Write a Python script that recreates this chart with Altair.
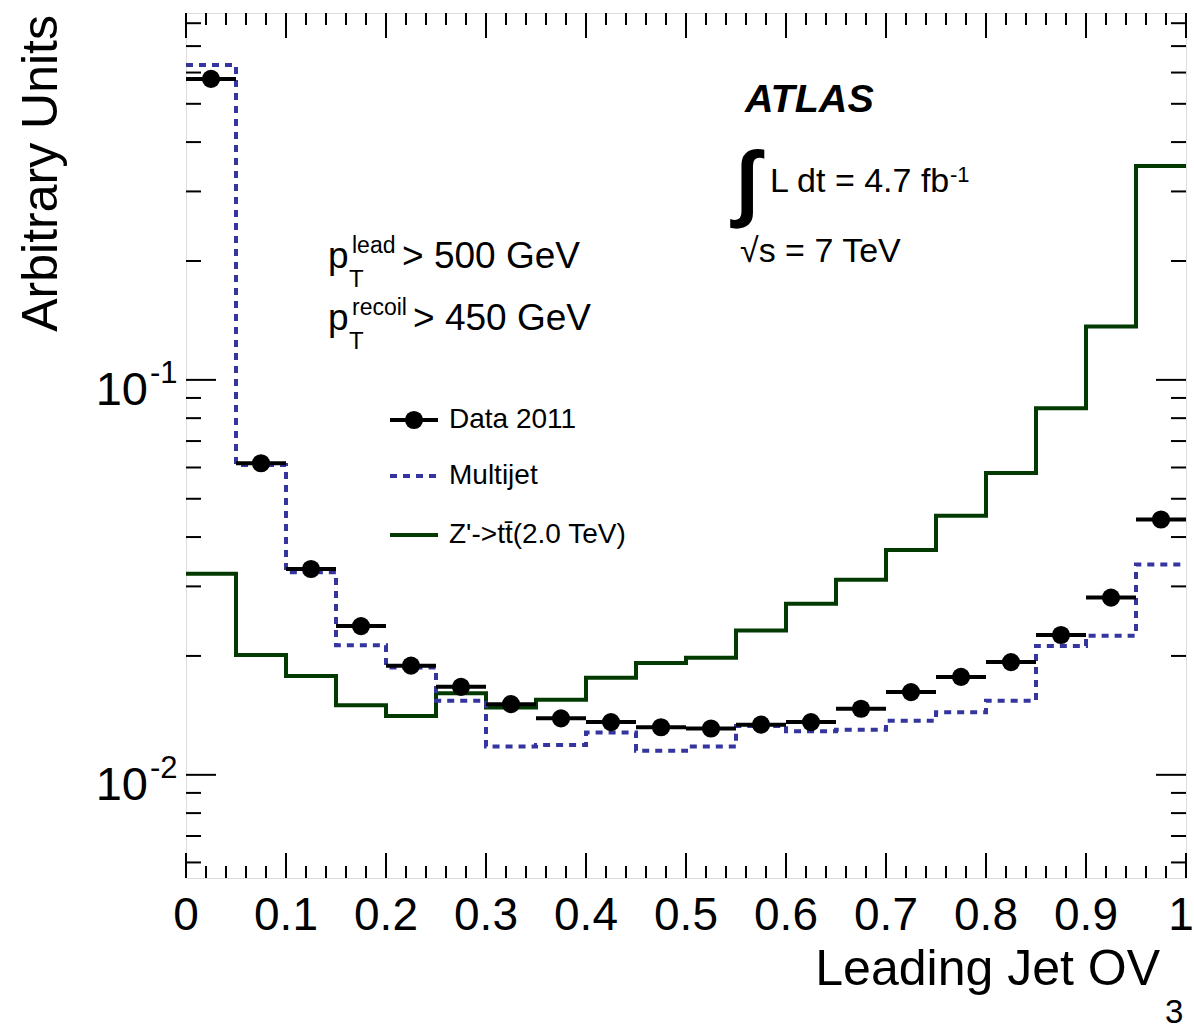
import altair as alt
import pandas as pd

# ---------------- data ----------------
bin_lo = [0.00, 0.05, 0.10, 0.15, 0.20, 0.25, 0.30, 0.35, 0.40, 0.45,
          0.50, 0.55, 0.60, 0.65, 0.70, 0.75, 0.80, 0.85, 0.90, 0.95]
bin_hi = [0.05, 0.10, 0.15, 0.20, 0.25, 0.30, 0.35, 0.40, 0.45, 0.50,
          0.55, 0.60, 0.65, 0.70, 0.75, 0.80, 0.85, 0.90, 0.95, 1.00]
bin_center = [0.025, 0.075, 0.125, 0.175, 0.225, 0.275, 0.325, 0.375, 0.425, 0.475,
              0.525, 0.575, 0.625, 0.675, 0.725, 0.775, 0.825, 0.875, 0.925, 0.975]

data_2011 = [0.578, 0.0615, 0.0332, 0.0238, 0.0189, 0.0167, 0.0151, 0.0139, 0.0136, 0.0132,
             0.0131, 0.0134, 0.0136, 0.0147, 0.0162, 0.0177, 0.0193, 0.0226, 0.0281, 0.0443]
multijet = [0.627, 0.0609, 0.0326, 0.0213, 0.0187, 0.0154, 0.0118, 0.0119, 0.0128, 0.0115,
            0.0118, 0.0133, 0.0129, 0.0130, 0.0137, 0.0144, 0.0154, 0.0212, 0.0225, 0.0341]
zprime = [0.0323, 0.0201, 0.0178, 0.0150, 0.0141, 0.0161, 0.0148, 0.0155, 0.0176, 0.0192,
          0.0198, 0.0232, 0.0271, 0.0312, 0.0371, 0.0453, 0.0581, 0.0848, 0.1365, 0.348]

x_label_values = [0, 0.1, 0.2, 0.3, 0.4, 0.5, 0.6, 0.7, 0.8, 0.9, 1]
x_label_text = ["0", "0.1", "0.2", "0.3", "0.4", "0.5", "0.6", "0.7", "0.8", "0.9", "1"]
x_minor_ticks = [0.02, 0.04, 0.06, 0.08, 0.12, 0.14, 0.16, 0.18, 0.22, 0.24, 0.26, 0.28,
                 0.32, 0.34, 0.36, 0.38, 0.42, 0.44, 0.46, 0.48, 0.52, 0.54, 0.56, 0.58,
                 0.62, 0.64, 0.66, 0.68, 0.72, 0.74, 0.76, 0.78, 0.82, 0.84, 0.86, 0.88,
                 0.92, 0.94, 0.96, 0.98]
y_major_ticks = [0.01, 0.1]
y_major_exp = ["-2", "-1"]
y_minor_ticks = [0.006, 0.007, 0.008, 0.009, 0.02, 0.03, 0.04, 0.05, 0.06, 0.07, 0.08, 0.09,
                 0.2, 0.3, 0.4, 0.5, 0.6, 0.7, 0.8]

legend_labels = ["Data 2011", "Multijet", "Z'->tt\u0304(2.0 TeV)"]

# ---------------- styles ----------------
W, H = 1000, 865
FONT = "Liberation Sans"
BLUE = "#3535a0"
GREEN = "#023a02"
MARKER = 330

xs = alt.Scale(domain=[0, 1], nice=False, zero=False)
ys = alt.Scale(type="log", domain=[0.00548, 0.849], nice=False)

bins = pd.DataFrame({"lo": bin_lo, "hi": bin_hi, "c": bin_center,
                     "data": data_2011, "mj": multijet, "zp": zprime})

step = pd.DataFrame({"x": bin_lo + [1.0],
                     "mj": multijet + [multijet[-1]],
                     "zp": zprime + [zprime[-1]]})

# histogram step lines
zp_line = alt.Chart(step).mark_line(interpolate="step-after", color=GREEN, strokeWidth=4).encode(
    x=alt.X("x:Q", scale=xs, axis=None),
    y=alt.Y("zp:Q", scale=ys, axis=None),
)
mj_line = alt.Chart(step).mark_line(interpolate="step-after", color=BLUE, strokeWidth=4,
                                    strokeDash=[7, 6]).encode(
    x=alt.X("x:Q", scale=xs, axis=None),
    y=alt.Y("mj:Q", scale=ys, axis=None),
)

# data points with horizontal bars
data_bars = alt.Chart(bins).mark_rule(color="black", strokeWidth=4).encode(
    x=alt.X("lo:Q", scale=xs, axis=None), x2="hi:Q",
    y=alt.Y("data:Q", scale=ys, axis=None),
)
data_pts = alt.Chart(bins).mark_circle(color="black", opacity=1, size=MARKER).encode(
    x=alt.X("c:Q", scale=xs, axis=None),
    y=alt.Y("data:Q", scale=ys, axis=None),
)

# ---------------- inward ticks on all four sides ----------------
def xticks(vals, length):
    df = pd.DataFrame({"v": vals})
    bot = alt.Chart(df).mark_rule(color="black", strokeWidth=2).encode(
        x=alt.X("v:Q", scale=xs, axis=None), y=alt.value(H), y2=alt.value(H - length))
    top = alt.Chart(df).mark_rule(color="black", strokeWidth=2).encode(
        x=alt.X("v:Q", scale=xs, axis=None), y=alt.value(0), y2=alt.value(length))
    return [bot, top]


def yticks(vals, length):
    df = pd.DataFrame({"v": vals})
    left = alt.Chart(df).mark_rule(color="black", strokeWidth=2).encode(
        y=alt.Y("v:Q", scale=ys, axis=None), x=alt.value(0), x2=alt.value(length))
    right = alt.Chart(df).mark_rule(color="black", strokeWidth=2).encode(
        y=alt.Y("v:Q", scale=ys, axis=None), x=alt.value(W), x2=alt.value(W - length))
    return [left, right]


tick_layers = (xticks(x_label_values, 25) + xticks(x_minor_ticks, 12)
               + yticks(y_major_ticks, 30) + yticks(y_minor_ticks, 15))

# x tick labels (last one nudged so it stays inside the canvas)
xlab_df = pd.DataFrame({"v": x_label_values, "t": x_label_text})
xlab = alt.Chart(xlab_df[:-1]).mark_text(align="center", baseline="alphabetic", font=FONT,
                                         fontSize=46, color="black").encode(
    x=alt.X("v:Q", scale=xs, axis=None), y=alt.value(H + 52), text="t:N")
xlab_last = alt.Chart(xlab_df[-1:]).mark_text(align="center", baseline="alphabetic", font=FONT,
                                              fontSize=46, color="black", dx=-5).encode(
    x=alt.X("v:Q", scale=xs, axis=None), y=alt.value(H + 52), text="t:N")

# y tick labels 10^-1, 10^-2
ylab_df = pd.DataFrame({"v": y_major_ticks, "exp": y_major_exp, "base": ["10", "10"]})
ylab_base = alt.Chart(ylab_df).mark_text(align="right", baseline="alphabetic", dy=25,
                                         font=FONT, fontSize=47, color="black").encode(
    y=alt.Y("v:Q", scale=ys, axis=None), x=alt.value(-38), text="base:N")
ylab_exp = alt.Chart(ylab_df).mark_text(align="left", baseline="alphabetic", dy=3,
                                        font=FONT, fontSize=31, color="black").encode(
    y=alt.Y("v:Q", scale=ys, axis=None), x=alt.value(-36), text="exp:N")


# ---------------- free text ----------------
def txt(s, x, y, size, align="left", baseline="alphabetic", **kw):
    return alt.Chart(pd.DataFrame({"t": [s]})).mark_text(
        align=align, baseline=baseline, font=FONT, fontSize=size, color="black", **kw
    ).encode(text="t:N", x=alt.value(x), y=alt.value(y))


texts = [
    txt("Arbitrary Units", -129, 2, 50, align="right", angle=270),
    txt("Leading Jet OV", 974, 972, 50, align="right"),
    txt("3", 979, 1010, 33),
    txt("ATLAS", 559, 99, 39.5, fontStyle="italic", fontWeight="bold"),
    txt("\u222b", 561, 172, 84, align="center", baseline="middle", fontWeight="bold"),
    txt("L dt = 4.7 fb", 584, 179, 34),
    txt("-1", 764, 169, 22),
    txt("\u221as = 7 TeV", 554, 249, 34),
    txt("p", 142, 255, 37),
    txt("lead", 166, 240, 23),
    txt("T", 163, 274, 24),
    txt("> 500 GeV", 216, 255, 37),
    txt("p", 142, 317, 37),
    txt("recoil", 166, 302, 23),
    txt("T", 163, 336, 24),
    txt("> 450 GeV", 227, 317, 37),
]

# ---------------- legend ----------------
one = pd.DataFrame({"k": [0]})
LX0, LX1, LTX = 204, 252, 263
LY = [407, 463, 522]
legend = [
    alt.Chart(one).mark_rule(color="black", strokeWidth=4).encode(
        x=alt.value(LX0), x2=alt.value(LX1), y=alt.value(LY[0])),
    alt.Chart(one).mark_circle(color="black", opacity=1, size=MARKER).encode(
        x=alt.value((LX0 + LX1) / 2), y=alt.value(LY[0])),
    alt.Chart(one).mark_rule(color=BLUE, strokeWidth=4, strokeDash=[7, 6]).encode(
        x=alt.value(LX0), x2=alt.value(LX1), y=alt.value(LY[1])),
    alt.Chart(one).mark_rule(color=GREEN, strokeWidth=4).encode(
        x=alt.value(LX0), x2=alt.value(LX1), y=alt.value(LY[2])),
]
for lab, yy in zip(legend_labels, LY):
    legend.append(txt(lab, LTX, yy, 28, baseline="middle"))

chart = alt.layer(
    zp_line, mj_line, data_bars, data_pts, *tick_layers, xlab, xlab_last, ylab_base, ylab_exp,
    *texts, *legend
).properties(
    width=W, height=H,
    autosize=alt.AutoSizeParams(type="none"),
    padding={"left": 186, "top": 13, "right": 8, "bottom": 155},
).configure_view(
    stroke="black", strokeWidth=2
).configure(background="white")

chart.save("out.html", embed_options={"renderer": "svg", "actions": False})
